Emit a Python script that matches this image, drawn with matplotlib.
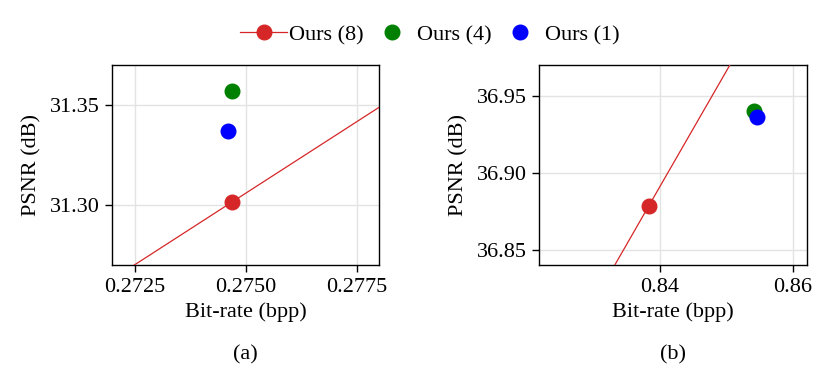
import matplotlib
matplotlib.use("Agg")
import matplotlib.pyplot as plt
from matplotlib.lines import Line2D
from matplotlib.ticker import FormatStrFormatter

plt.rcParams["font.family"] = ["Liberation Serif", "DejaVu Serif"]
plt.rcParams["font.size"] = 16

# (a) bit-rate (bpp) / PSNR (dB); Ours (8) curve runs past the visible window
a_ours8_bpp = [0.2700, 0.27468, 0.2800]
a_ours8_psnr = [31.2345, 31.3014, 31.3774]
a_ours4_bpp, a_ours4_psnr = [0.27469], [31.357]
a_ours1_bpp, a_ours1_psnr = [0.27460], [31.337]

# (b)
b_ours8_bpp = [0.8200, 0.8383, 0.8600]
b_ours8_psnr = [36.741, 36.8784, 37.041]
b_ours4_bpp, b_ours4_psnr = [0.85421], [36.9399]
b_ours1_bpp, b_ours1_psnr = [0.85462], [36.936]

RED = "#d62728"
GREEN = "#008000"
BLUE = "#0000ff"

fig = plt.figure(figsize=(8.29, 3.90), dpi=100)
ax_a = fig.add_axes([0.1351, 0.3205, 0.3221, 0.5128])
ax_b = fig.add_axes([0.6505, 0.3205, 0.3226, 0.5128])

panels = [
    (ax_a, a_ours8_bpp, a_ours8_psnr, a_ours4_bpp, a_ours4_psnr, a_ours1_bpp, a_ours1_psnr),
    (ax_b, b_ours8_bpp, b_ours8_psnr, b_ours4_bpp, b_ours4_psnr, b_ours1_bpp, b_ours1_psnr),
]

for ax, x8, y8, x4, y4, x1, y1 in panels:
    ax.plot(x8, y8, "-", color=RED, lw=0.9, zorder=3)
    ax.plot(x8, y8, "o", color=RED, ms=10.5, lw=0, zorder=4)
    ax.plot(x4, y4, "o", color=GREEN, ms=10.5, zorder=4)
    ax.plot(x1, y1, "o", color=BLUE, ms=10.5, zorder=5)
    ax.grid(True, color="#e3e3e3", lw=1.0)
    ax.set_axisbelow(True)
    for s in ax.spines.values():
        s.set_linewidth(1.0)
    ax.tick_params(direction="out", length=5, width=1.0, pad=4)
    ax.set_xlabel("Bit-rate (bpp)", labelpad=4)
    ax.set_ylabel("PSNR (dB)", labelpad=6)

ax_a.set_xlim(0.27198, 0.2780)
ax_a.set_ylim(31.27, 31.37)
ax_a.set_xticks([0.2725, 0.2750, 0.2775])
ax_a.set_yticks([31.30, 31.35])
ax_a.xaxis.set_major_formatter(FormatStrFormatter("%.4f"))
ax_a.yaxis.set_major_formatter(FormatStrFormatter("%.2f"))

ax_b.set_xlim(0.8218, 0.8621)
ax_b.set_ylim(36.84, 36.97)
ax_b.set_xticks([0.84, 0.86])
ax_b.set_yticks([36.85, 36.90, 36.95])
ax_b.xaxis.set_major_formatter(FormatStrFormatter("%.2f"))
ax_b.yaxis.set_major_formatter(FormatStrFormatter("%.2f"))

fig.text(245 / 829, 1 - 355 / 390, "(a)", ha="center", va="center")
fig.text(673 / 829, 1 - 355 / 390, "(b)", ha="center", va="center")

handles = [
    Line2D([], [], color=RED, lw=0.9, marker="o", ms=10.5),
    Line2D([], [], color=GREEN, lw=0, marker="o", ms=10.5),
    Line2D([], [], color=BLUE, lw=0, marker="o", ms=10.5),
]
fig.legend(
    handles,
    ["Ours (8)", "Ours (4)", "Ours (1)"],
    loc="center",
    bbox_to_anchor=(430 / 829, 1 - 35 / 390),
    ncol=3,
    frameon=False,
    handlelength=2.1,
    handletextpad=0.1,
    columnspacing=0.2,
)

fig.savefig("out.png", dpi=100)
